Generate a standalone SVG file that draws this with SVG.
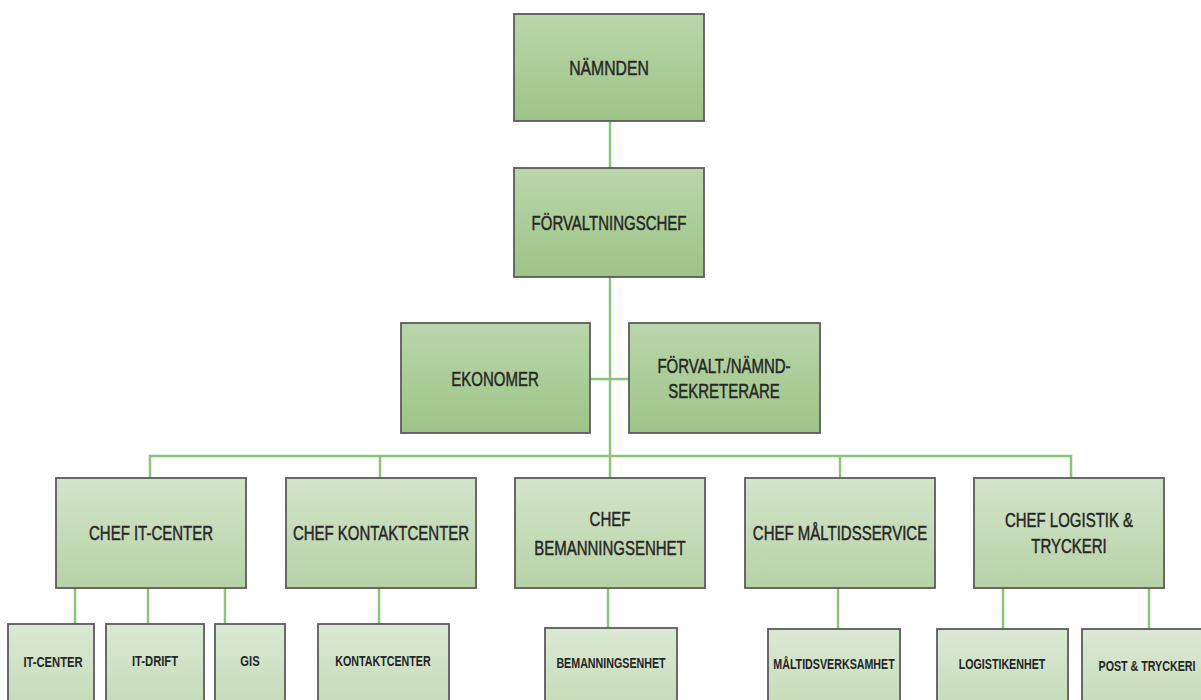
<svg xmlns="http://www.w3.org/2000/svg" width="1201" height="700" viewBox="0 0 1201 700">
<defs>
<linearGradient id="gTop" x1="0" y1="0" x2="0" y2="1">
<stop offset="0" stop-color="#bad6aa"/><stop offset="1" stop-color="#9dc487"/>
</linearGradient>
<linearGradient id="gMid" x1="0" y1="0" x2="0" y2="1">
<stop offset="0" stop-color="#d3e5ca"/><stop offset="1" stop-color="#b6d2a6"/>
</linearGradient>
<linearGradient id="gSub" x1="0" y1="0" x2="0" y2="1">
<stop offset="0" stop-color="#dbe9d4"/><stop offset="1" stop-color="#c2dab5"/>
</linearGradient>
</defs>
<style>
rect{stroke:#5b5b5b;stroke-width:1.8}
.top{fill:url(#gTop)}
.mid{fill:url(#gMid)}
.sub{fill:url(#gSub)}
text{font-family:"Liberation Sans",Arial,sans-serif;fill:#262626;text-anchor:middle}
.t{font-size:15px;stroke:#262626;stroke-width:0.35}
.s{font-size:10.7px;font-weight:bold}
.c line,.c path{stroke:#8dc47b;stroke-width:2.5;fill:none}
</style>
<g class="c" id="connectors">
<line x1="610" y1="121" x2="610" y2="168"/>
<line x1="610" y1="277" x2="610" y2="478"/>
<line x1="590" y1="379" x2="629" y2="379"/>
<path d="M150 478 V456 H1071 V478"/>
<line x1="380" y1="456" x2="380" y2="478"/>
<line x1="840" y1="456" x2="840" y2="478"/>
<line x1="75" y1="588" x2="75" y2="624"/>
<line x1="148" y1="588" x2="148" y2="624"/>
<line x1="225" y1="588" x2="225" y2="624"/>
<line x1="379" y1="588" x2="379" y2="624"/>
<line x1="608" y1="588" x2="608" y2="628"/>
<line x1="838" y1="588" x2="838" y2="629"/>
<line x1="1003" y1="588" x2="1003" y2="629"/>
<line x1="1149" y1="588" x2="1149" y2="629"/>
</g>
<g id="namnden"><rect class="top" x="514" y="14" width="190" height="107"/>
<text class="t" transform="translate(609,75) scale(1.05,1.3)">NÄMNDEN</text></g>
<g id="forvaltningschef"><rect class="top" x="514" y="168" width="190" height="109"/>
<text class="t" transform="translate(609,230) scale(1,1.3)">FÖRVALTNINGSCHEF</text></g>
<g id="ekonomer"><rect class="top" x="401" y="323" width="189" height="110"/>
<text class="t" transform="translate(495,386) scale(1,1.3)">EKONOMER</text></g>
<g id="sekreterare"><rect class="top" x="629" y="323" width="191" height="110"/>
<text class="t" transform="translate(724,373) scale(1,1.3)">FÖRVALT./NÄMND-</text>
<text class="t" transform="translate(724,398) scale(1,1.3)">SEKRETERARE</text></g>
<g id="chef-it"><rect class="mid" x="56" y="478" width="190" height="110"/>
<text class="t" transform="translate(151,540) scale(1,1.3)">CHEF IT-CENTER</text></g>
<g id="chef-kontakt"><rect class="mid" x="286" y="478" width="190" height="110"/>
<text class="t" transform="translate(381,540) scale(1,1.3)">CHEF KONTAKTCENTER</text></g>
<g id="chef-bemanning"><rect class="mid" x="515" y="478" width="190" height="110"/>
<text class="t" transform="translate(610,526) scale(1,1.3)">CHEF</text>
<text class="t" transform="translate(610,555) scale(1,1.3)">BEMANNINGSENHET</text></g>
<g id="chef-maltid"><rect class="mid" x="745" y="478" width="190" height="110"/>
<text class="t" transform="translate(840,540) scale(1,1.3)">CHEF MÅLTIDSSERVICE</text></g>
<g id="chef-logistik"><rect class="mid" x="974" y="478" width="190" height="110"/>
<text class="t" transform="translate(1069,527) scale(1,1.3)">CHEF LOGISTIK &amp;</text>
<text class="t" transform="translate(1069,553) scale(1,1.3)">TRYCKERI</text></g>
<g id="it-center"><rect class="sub" x="8" y="624" width="86" height="90"/>
<text class="s" transform="translate(53,667) scale(1.05,1.3)">IT-CENTER</text></g>
<g id="it-drift"><rect class="sub" x="106" y="624" width="98" height="90"/>
<text class="s" transform="translate(155,666) scale(1.05,1.3)">IT-DRIFT</text></g>
<g id="gis"><rect class="sub" x="215" y="624" width="70" height="90"/>
<text class="s" transform="translate(250,666) scale(1.05,1.3)">GIS</text></g>
<g id="kontaktcenter"><rect class="sub" x="318" y="624" width="131" height="90"/>
<text class="s" transform="translate(383,666) scale(1,1.3)">KONTAKTCENTER</text></g>
<g id="bemanningsenhet"><rect class="sub" x="545" y="628" width="132" height="90"/>
<text class="s" transform="translate(611,668) scale(1,1.3)">BEMANNINGSENHET</text></g>
<g id="maltidsverksamhet"><rect class="sub" x="768" y="629" width="132" height="90"/>
<text class="s" transform="translate(834,669) scale(1,1.3)">MÅLTIDSVERKSAMHET</text></g>
<g id="logistikenhet"><rect class="sub" x="937" y="629" width="131" height="90"/>
<text class="s" transform="translate(1002,669) scale(1,1.3)">LOGISTIKENHET</text></g>
<g id="post"><rect class="sub" x="1082" y="629" width="130" height="90"/>
<text class="s" transform="translate(1147,671) scale(1,1.3)">POST &amp; TRYCKERI</text></g>
</svg>
